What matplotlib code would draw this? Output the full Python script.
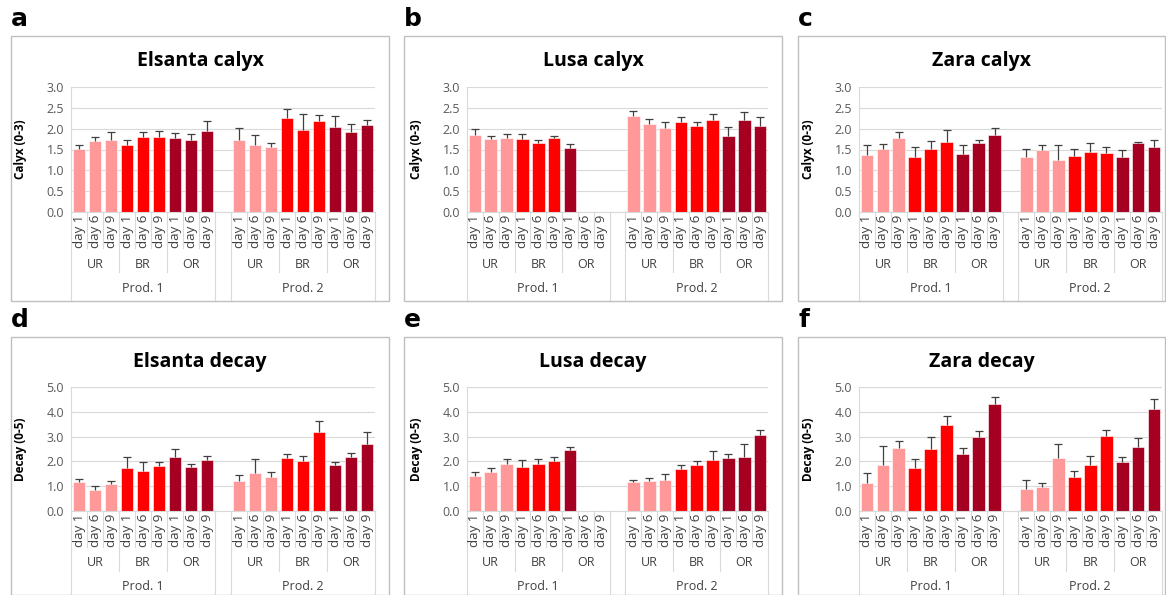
import numpy as np
import matplotlib
matplotlib.use("Agg")
import matplotlib.pyplot as plt
from matplotlib.patches import Rectangle
from matplotlib.transforms import blended_transform_factory

# categories
days = ["day 1", "day 6", "day 9"]
stages = ["UR", "BR", "OR"]
prods = ["Prod. 1", "Prod. 2"]
stage_colors = ["#FF9999", "#FF0000", "#A50021"]

# mean scores, order: Prod.1 (UR d1,d6,d9, BR d1,d6,d9, OR d1,d6,d9) then Prod.2
elsanta_calyx = [1.52, 1.70, 1.73, 1.61, 1.80, 1.80, 1.77, 1.73, 1.95,
                 1.74, 1.62, 1.55, 2.26, 1.97, 2.18, 2.03, 1.93, 2.08]
elsanta_calyx_se = [0.08, 0.11, 0.20, 0.12, 0.13, 0.15, 0.13, 0.14, 0.23,
                    0.28, 0.23, 0.10, 0.21, 0.38, 0.15, 0.28, 0.18, 0.13]

lusa_calyx = [1.85, 1.75, 1.78, 1.75, 1.65, 1.78, 1.53, np.nan, np.nan,
              2.30, 2.11, 2.02, 2.15, 2.07, 2.21, 1.82, 2.22, 2.07]
lusa_calyx_se = [0.15, 0.08, 0.10, 0.13, 0.09, 0.05, 0.10, np.nan, np.nan,
                 0.13, 0.12, 0.13, 0.13, 0.10, 0.15, 0.23, 0.19, 0.20]

zara_calyx = [1.37, 1.52, 1.77, 1.31, 1.51, 1.69, 1.39, 1.65, 1.85,
              1.31, 1.50, 1.25, 1.35, 1.45, 1.41, 1.31, 1.66, 1.56]
zara_calyx_se = [0.23, 0.11, 0.14, 0.26, 0.19, 0.28, 0.22, 0.09, 0.17,
                 0.20, 0.11, 0.35, 0.16, 0.21, 0.15, 0.18, 0.02, 0.18]

elsanta_decay = [1.18, 0.83, 1.07, 1.74, 1.62, 1.81, 2.19, 1.78, 2.07,
                 1.22, 1.55, 1.38, 2.12, 2.03, 3.18, 1.86, 2.16, 2.71]
elsanta_decay_se = [0.11, 0.16, 0.15, 0.45, 0.35, 0.18, 0.31, 0.13, 0.15,
                    0.25, 0.53, 0.19, 0.18, 0.17, 0.44, 0.12, 0.16, 0.47]

lusa_decay = [1.43, 1.59, 1.91, 1.79, 1.90, 2.02, 2.47, np.nan, np.nan,
              1.17, 1.21, 1.23, 1.71, 1.86, 2.07, 2.12, 2.19, 3.06]
lusa_decay_se = [0.14, 0.15, 0.17, 0.27, 0.20, 0.16, 0.11, np.nan, np.nan,
                 0.10, 0.12, 0.28, 0.14, 0.16, 0.36, 0.18, 0.52, 0.21]

zara_decay = [1.13, 1.85, 2.56, 1.75, 2.48, 3.48, 2.30, 3.00, 4.31,
              0.90, 0.98, 2.12, 1.37, 1.87, 3.03, 1.99, 2.58, 4.12]
zara_decay_se = [0.42, 0.78, 0.27, 0.35, 0.50, 0.35, 0.25, 0.21, 0.27,
                 0.36, 0.15, 0.59, 0.25, 0.35, 0.23, 0.19, 0.37, 0.40]

panels = [
    ("a", "Elsanta calyx", "Calyx (0-3)", elsanta_calyx, elsanta_calyx_se, 3.0, 0.5),
    ("b", "Lusa calyx", "Calyx (0-3)", lusa_calyx, lusa_calyx_se, 3.0, 0.5),
    ("c", "Zara calyx", "Calyx (0-3)", zara_calyx, zara_calyx_se, 3.0, 0.5),
    ("d", "Elsanta decay", "Decay (0-5)", elsanta_decay, elsanta_decay_se, 5.0, 1.0),
    ("e", "Lusa decay", "Decay (0-5)", lusa_decay, lusa_decay_se, 5.0, 1.0),
    ("f", "Zara decay", "Decay (0-5)", zara_decay, zara_decay_se, 5.0, 1.0),
]

W, H = 1166, 595
plt.rcParams['font.family'] = ['Open Sans', 'DejaVu Sans']
fig = plt.figure(figsize=(W / 100, H / 100), dpi=100)

# layout in pixels (top-left origin)
box_cols = [(11, 389), (404, 782), (798, 1165)]
box_rows = [(36, 301), (337, 595)]
ax_cols = [(71, 375), (467, 768), (859, 1162)]
ax_rows = [(87, 212), (387, 511)]
grid_c = "#D9D9D9"
txt_c = "#404040"

# x slots: 9 bars, one empty slot, 9 bars
xpos = np.r_[np.arange(9), np.arange(10, 19)]
bar_colors = [stage_colors[(i % 9) // 3] for i in range(18)]

for k, (letter, title, ylabel, vals, se, ymax, step) in enumerate(panels):
    r, c = divmod(k, 3)
    bx0, bx1 = box_cols[c]
    by0, by1 = box_rows[r]
    ax0, ax1 = ax_cols[c]
    ay0, ay1 = ax_rows[r]

    fig.add_artist(Rectangle((bx0 / W, 1 - by1 / H), (bx1 - bx0) / W, (by1 - by0) / H,
                             transform=fig.transFigure, fill=False,
                             ec="#BFBFBF", lw=1.0))
    fig.text(bx0 / W, 1 - (by0 - 5) / H, letter, fontsize=18, fontweight="bold",
             family="DejaVu Sans", va="bottom", ha="left")
    fig.text((bx0 + bx1) / 2 / W, 1 - (by0 + 25) / H, title, fontsize=14,
             fontweight="bold", ha="center", va="center")

    ax = fig.add_axes([ax0 / W, 1 - ay1 / H, (ax1 - ax0) / W, (ay1 - ay0) / H])
    vals = np.array(vals, dtype=float)
    se = np.array(se, dtype=float)
    ok = ~np.isnan(vals)
    cols = [bar_colors[i] for i in range(18) if ok[i]]
    ax.bar(xpos[ok], vals[ok], width=0.8, color=cols, edgecolor="white", lw=0.4, zorder=2)
    eb = ax.errorbar(xpos[ok], vals[ok], yerr=[np.zeros(ok.sum()), se[ok]], fmt="none",
                     ecolor="#404040", elinewidth=0.9, capsize=3, capthick=0.9, zorder=3)
    eb[1][0].set_visible(False)

    ax.set_xlim(-0.5, 18.5)
    ax.set_ylim(0, ymax)
    ax.set_yticks(np.arange(0, ymax + step / 2, step))
    ax.yaxis.set_major_formatter(matplotlib.ticker.FormatStrFormatter("%.1f"))
    ax.tick_params(axis="y", length=0, pad=5, labelsize=9, labelcolor="#595959")
    ax.set_xticks([])
    ax.yaxis.grid(True, color=grid_c, lw=0.8)
    ax.set_axisbelow(True)
    for s in ["top", "right"]:
        ax.spines[s].set_visible(False)
    ax.spines["left"].set_color(grid_c)
    ax.spines["bottom"].set_color(grid_c)
    ax.set_ylabel(ylabel, fontsize=8.5, fontweight="bold")
    ax.yaxis.set_label_coords(-44 / (ax1 - ax0), 0.5)

    # multi-level category axis
    hpx = ay1 - ay0
    fy = lambda py: (ay1 - py) / hpx
    tr = blended_transform_factory(ax.transData, ax.transAxes)
    day_end, stage_end, prod_end = ay1 + 36, ay1 + 60, by1
    for p in range(2):
        base = p * 10
        for g in range(3):
            for d in range(3):
                x = base + g * 3 + d
                ax.text(x, fy(ay1 + 19), days[d], rotation=90, ha="center", va="center",
                        fontsize=9.5, color=txt_c, transform=tr)
                if d > 0:
                    ax.plot([x - 0.5] * 2, [0, fy(day_end)], color=grid_c, lw=0.8,
                            transform=tr, clip_on=False)
            ax.text(base + g * 3 + 1, fy(ay1 + 52), stages[g], ha="center", va="center",
                    fontsize=9, color=txt_c, transform=tr)
            if g > 0:
                ax.plot([base + g * 3 - 0.5] * 2, [0, fy(stage_end)], color=grid_c, lw=0.8,
                        transform=tr, clip_on=False)
        ax.text(base + 4, fy(ay1 + 76), prods[p], ha="center", va="center",
                fontsize=9, color=txt_c, transform=tr)
        for xb in (base - 0.5, base + 8.5):
            ax.plot([xb] * 2, [0, fy(prod_end)], color=grid_c, lw=0.8,
                    transform=tr, clip_on=False)

fig.savefig("out.png", dpi=100)
